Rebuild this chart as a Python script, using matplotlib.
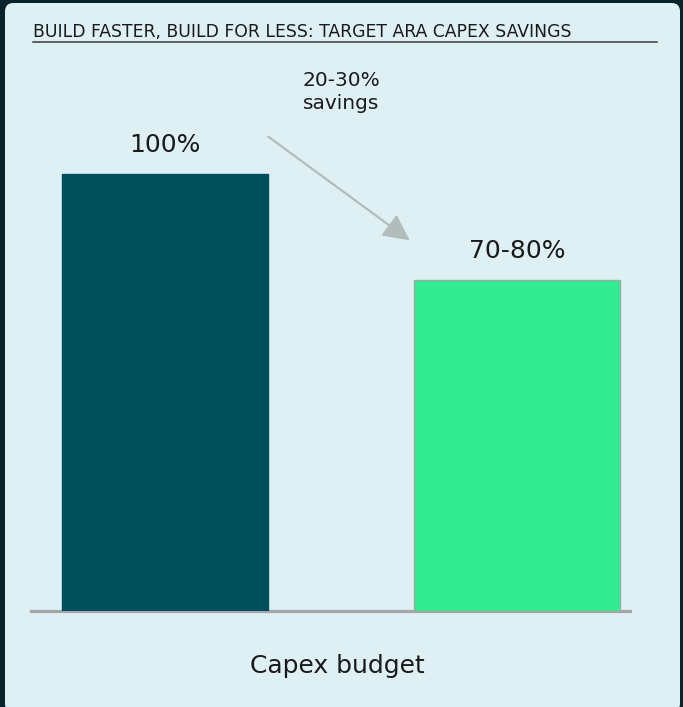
"""Capex savings chart: two bars, savings arrow, panel on dark frame."""
import matplotlib.pyplot as plt
from matplotlib.patches import FancyBboxPatch, FancyArrowPatch

plt.rcParams['font.family'] = ['DejaVu Sans']

categories = ['Current', 'Target']
values = [100, 75.7]
bar_labels = ['100%', '70-80%']
bar_colors = ['#004f5d', '#33ec92']
edge_colors = ['#004f5d', '#9aaaa6']
title = 'BUILD FASTER, BUILD FOR LESS: TARGET ARA CAPEX SAVINGS'
savings_text = '20-30%\nsavings'
xlabel = 'Capex budget'

W, H = 683, 707
fig = plt.figure(figsize=(W / 100, H / 100), dpi=100)
fig.patch.set_facecolor('#06242a')

def fx(px): return px / W
def fy(py): return 1 - py / H

panel = FancyBboxPatch((fx(5), fy(712)), fx(675), (712 - 3) / H,
                       boxstyle='round,pad=0,rounding_size=0.012',
                       transform=fig.transFigure, facecolor='#dff0f5',
                       edgecolor='none', zorder=-5)
fig.patches.append(panel)

# axes placed in pixel coordinates of the reference
ax = fig.add_axes([fx(31), fy(611), fx(630 - 31), (611 - 50) / H])
ax.set_facecolor('none')
ax.set_zorder(1)
pos = [0, 1]
ax.bar(pos, values, width=206 / 352, color=bar_colors, edgecolor=edge_colors,
       linewidth=1, zorder=3)
ax.axhline(0, color='#a6a6a6', lw=2.3, zorder=2, clip_on=False)
ax.set_xlim(-(165 - 31) / 352, 1 + (630 - 517) / 352)
ax.set_ylim(0, 100 * 561 / 437)
ax.axis('off')

for p, v, lab in zip(pos, values, bar_labels):
    ax.annotate(lab, (p, v), xytext=(0, 16), textcoords='offset points',
                ha='center', va='baseline', fontsize=18, color='#1a1a1a')

# savings arrow between bars
arr = FancyArrowPatch((fx(266), fy(135)), (fx(412), fy(242)),
                      transform=fig.transFigure, arrowstyle='-|>,head_length=10,head_width=5',
                      mutation_scale=1.6, color='#b3bcbc', lw=1.6, zorder=2)
fig.patches.append(arr)
for line, yb in zip(savings_text.split('\n'), [86, 109]):
    fig.text(fx(341), fy(yb), line, ha='center', va='baseline',
             fontsize=14.5, color='#1a1a1a')

fig.text(fx(33), fy(37), title, ha='left', va='baseline', fontsize=12.4,
         color='#1a1a1a')
fig.add_artist(plt.Line2D([fx(33), fx(657)], [fy(42), fy(42)],
                          color='#3a3a3a', lw=1.1, transform=fig.transFigure))

fig.text(fx(337), fy(673), xlabel, ha='center', va='baseline', fontsize=18,
         color='#1a1a1a')

fig.savefig('out.png', dpi=100, facecolor=fig.get_facecolor())
